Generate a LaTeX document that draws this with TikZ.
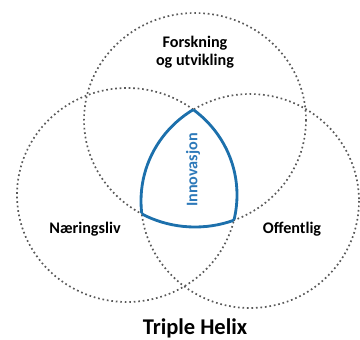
\documentclass[tikz,border=0pt]{standalone}
\usepackage{fontspec}
\setmainfont{Carlito}
\usepackage{xcolor}
\usepackage{tikz}
\usetikzlibrary{positioning}

\definecolor{helixblue}{RGB}{28,112,172}
\definecolor{helixtext}{RGB}{70,135,205}

\begin{document}
\begin{tikzpicture}[
    x=0.025cm, y=-0.025cm,
    ring/.style={draw=gray!70!black, line width=1.2pt, dash pattern=on 1.2pt off 2pt},
    core/.style={draw=helixblue, line width=2pt},
    label/.style={font=\fontsize{11.5}{13}\selectfont\bfseries, align=center},
    title/.style={font=\fontsize{16}{18}\selectfont\bfseries}
]
\useasboundingbox (0,0) rectangle (360,340);

% the three spheres
\draw[ring] (195,120) ellipse [x radius=111, y radius=107];
\draw[ring] (127,195) ellipse [x radius=110, y radius=107];
\draw[ring] (250,201) ellipse [x radius=109, y radius=107];

% common region
\begin{scope}
    \clip (127,195) ellipse [x radius=110, y radius=107];
    \clip (250,201) ellipse [x radius=109, y radius=107];
    \draw[core] (195,120) ellipse [x radius=111, y radius=107];
\end{scope}
\begin{scope}
    \clip (195,120) ellipse [x radius=111, y radius=107];
    \clip (250,201) ellipse [x radius=109, y radius=107];
    \draw[core] (127,195) ellipse [x radius=110, y radius=107];
\end{scope}
\begin{scope}
    \clip (195,120) ellipse [x radius=111, y radius=107];
    \clip (127,195) ellipse [x radius=110, y radius=107];
    \draw[core] (250,201) ellipse [x radius=109, y radius=107];
\end{scope}

\node[label] (forsk) at (195,52) {Forskning\\og utvikling};
\node[label] (naering) at (85,229) {Næringsliv};
\node[label] (offentlig) at (292,229) {Offentlig};
\node[label, text=helixblue!60!helixtext, rotate=90] (innov) at (193,170) {Innovasjon};
\node[title, anchor=base] (helix) at (195,334) {Triple Helix};

\end{tikzpicture}
\end{document}
